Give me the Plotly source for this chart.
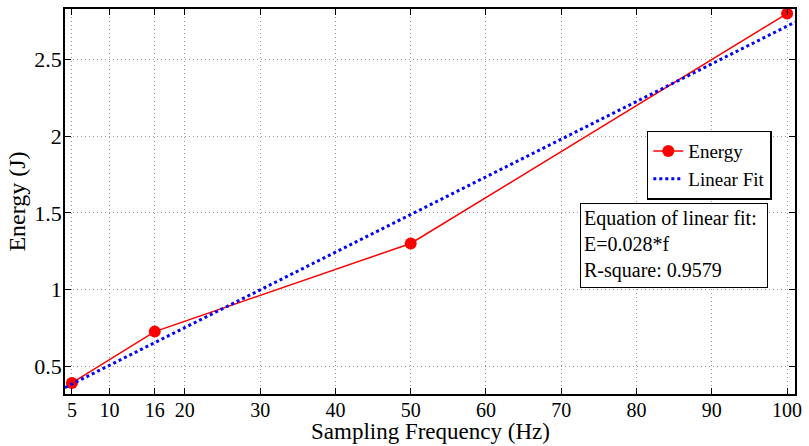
import plotly.graph_objects as go

freq = [5, 16, 50, 100]
energy = [0.39, 0.725, 1.30, 2.80]
fit_x = [4.08, 101.05]
fit_y = [0.36, 2.744]
x_ticks = [5, 10, 16, 20, 30, 40, 50, 60, 70, 80, 90, 100]
y_ticks = [0.5, 1, 1.5, 2, 2.5]
y_tick_text = ["0.5", "1", "1.5", "2", "2.5"]
fit_text = "Equation of linear fit:<br>E=0.028*f<br>R-square: 0.9579"
x_title = "Sampling Frequency (Hz)"
y_title = "Energy (J)"

FONT = "Liberation Serif, Times New Roman, serif"

fig = go.Figure()
fig.add_trace(go.Scatter(x=freq, y=energy, mode="lines+markers", name="Energy",
                         line=dict(color="#ff0000", width=1.5),
                         marker=dict(color="#ff0000", size=12)))
fig.add_trace(go.Scatter(x=fit_x, y=fit_y, mode="lines", name="Linear Fit",
                         line=dict(color="#0000ff", width=3, dash="dot")))

axis_common = dict(showline=True, linecolor="black", linewidth=1.5, mirror="ticks",
                   ticks="inside", ticklen=6, tickcolor="black",
                   showgrid=True, gridcolor="#999999", griddash="1px,3px", gridwidth=1,
                   zeroline=False, ticklabelstandoff=-3)

fig.update_xaxes(range=[4.08, 101.05], tickvals=x_ticks,
                 tickfont=dict(family=FONT, size=20, color="black"), **axis_common)
fig.update_yaxes(range=[0.318, 2.83], tickvals=y_ticks, ticktext=y_tick_text,
                 tickfont=dict(family=FONT, size=22, color="black"),
                 title=dict(text=y_title, font=dict(family=FONT, size=24, color="black"), standoff=2),
                 **axis_common)

fig.add_annotation(xref="paper", yref="paper", x=0.5, y=-0.1344, xanchor="center", yanchor="bottom",
                   text=x_title, showarrow=False,
                   font=dict(family=FONT, size=23, color="black"))

fig.add_annotation(xref="paper", yref="paper", x=0.705, y=0.497, xanchor="left", yanchor="top",
                   text=fit_text, showarrow=False, align="left", valign="top",
                   width=180, height=77,
                   font=dict(family=FONT, size=20, color="black"),
                   bordercolor="black", borderwidth=1, borderpad=3, bgcolor="white")

fig.update_layout(width=809, height=446, margin=dict(l=65, r=8, t=7, b=52),
                  plot_bgcolor="white", paper_bgcolor="white",
                  font=dict(family=FONT, color="black"),
                  legend=dict(x=0.797, y=0.684, xanchor="left", yanchor="top",
                              bordercolor="black", borderwidth=1.5, bgcolor="white",
                              font=dict(family=FONT, size=19, color="black"),
                              itemwidth=30, tracegroupgap=0))

fig.write_html("out.html")
